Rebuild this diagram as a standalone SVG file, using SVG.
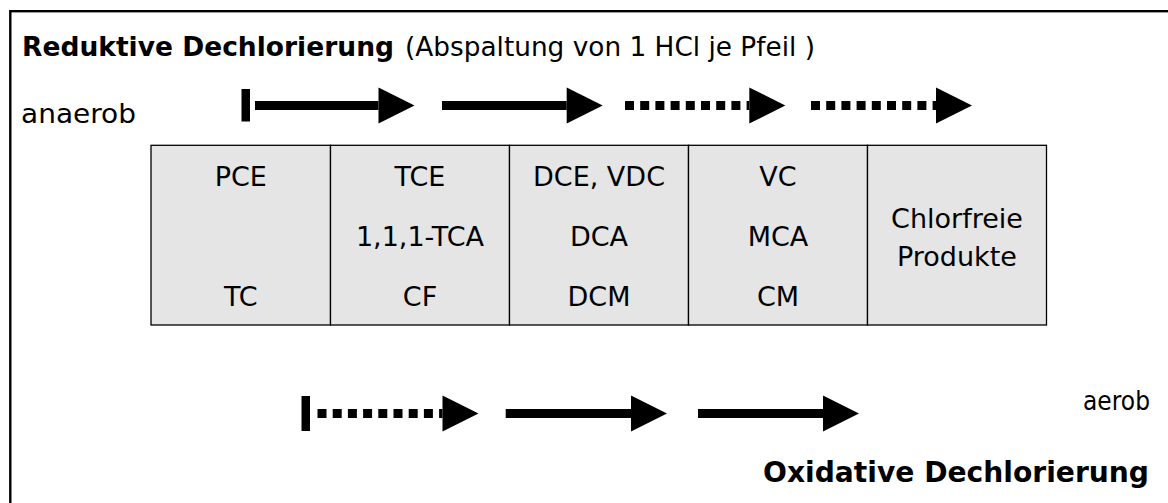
<svg xmlns="http://www.w3.org/2000/svg" width="1168" height="503" viewBox="0 0 1168 503">
  <style>
    text { font-family: "DejaVu Sans", "Liberation Sans", sans-serif; fill: #000; }
    .cell { fill: #e5e5e5; stroke: #000; stroke-width: 1.3; }
    .lbl { font-size: 27px; text-anchor: middle; }
    .head { font-size: 26px; font-weight: bold; }
    .note { font-size: 26px; }
    .side { font-size: 27px; }
    .solid { stroke: #000; stroke-width: 9; fill: none; }
    .dotted { stroke: #000; stroke-width: 9; fill: none; stroke-dasharray: 9 6.2; }
    .bar { fill: #000; }
  </style>
  <defs>
    <marker id="tri" markerUnits="userSpaceOnUse" markerWidth="37" markerHeight="37" refX="0" refY="18" orient="auto" overflow="visible">
      <path d="M0,0 L36,18 L0,36 Z" fill="#000"/>
    </marker>
  </defs>

  <!-- outer frame (only left and top edges fall inside the canvas) -->
  <rect x="10.3" y="11.2" width="1200" height="600" fill="none" stroke="#000" stroke-width="2.4"/>

  <!-- headings and condition labels -->
  <g id="title-reductive">
    <text x="22" y="56" class="head" textLength="372" lengthAdjust="spacingAndGlyphs">Reduktive Dechlorierung</text>
    <text x="405" y="56" class="note" textLength="410" lengthAdjust="spacingAndGlyphs">(Abspaltung von 1 HCl je Pfeil )</text>
  </g>
  <g id="label-anaerob">
    <text x="21" y="123" class="side" textLength="115" lengthAdjust="spacingAndGlyphs">anaerob</text>
  </g>
  <g id="label-aerob">
    <text x="1083" y="410" class="side" style="font-size:26px" textLength="67" lengthAdjust="spacingAndGlyphs">aerob</text>
  </g>
  <g id="title-oxidative">
    <text x="763" y="482" class="head" style="font-size:28px" textLength="386" lengthAdjust="spacingAndGlyphs">Oxidative Dechlorierung</text>
  </g>

  <!-- compound classes, one column per chlorination level -->
  <g id="col-pce">
    <rect class="cell" x="151" y="145.3" width="179.5" height="179.7"/>
    <text class="lbl" x="240.8" y="186">PCE</text>
    <text class="lbl" x="240.8" y="306">TC</text>
  </g>
  <g id="col-tce">
    <rect class="cell" x="330.5" y="145.3" width="179" height="179.7"/>
    <text class="lbl" x="420" y="186">TCE</text>
    <text class="lbl" x="420" y="246">1,1,1-TCA</text>
    <text class="lbl" x="420" y="306">CF</text>
  </g>
  <g id="col-dce">
    <rect class="cell" x="509.5" y="145.3" width="179" height="179.7"/>
    <text class="lbl" x="599" y="186">DCE, VDC</text>
    <text class="lbl" x="599" y="246">DCA</text>
    <text class="lbl" x="599" y="306">DCM</text>
  </g>
  <g id="col-vc">
    <rect class="cell" x="688.5" y="145.3" width="179" height="179.7"/>
    <text class="lbl" x="778" y="186">VC</text>
    <text class="lbl" x="778" y="246">MCA</text>
    <text class="lbl" x="778" y="306">CM</text>
  </g>
  <g id="col-free">
    <rect class="cell" x="867.5" y="145.3" width="179" height="179.7"/>
    <text class="lbl" x="957" y="228">Chlorfreie</text>
    <text class="lbl" x="957" y="266">Produkte</text>
  </g>

  <!-- reaction arrows -->
  <g id="connectors">
    <!-- anaerobic (reductive) sequence -->
    <rect class="bar" x="241.5" y="89" width="8.5" height="32.5"/>
    <line class="solid" x1="255" y1="105.5" x2="378.5" y2="105.5" marker-end="url(#tri)"/>
    <line class="solid" x1="442" y1="105.5" x2="566.7" y2="105.5" marker-end="url(#tri)"/>
    <line class="dotted" x1="625" y1="105.5" x2="749.3" y2="105.5" marker-end="url(#tri)"/>
    <line class="dotted" x1="811" y1="105.5" x2="936" y2="105.5" marker-end="url(#tri)"/>
    <!-- aerobic (oxidative) sequence -->
    <rect class="bar" x="301.5" y="396" width="8.5" height="35"/>
    <line class="dotted" x1="317.5" y1="413.5" x2="442.5" y2="413.5" marker-end="url(#tri)"/>
    <line class="solid" x1="505.7" y1="413.5" x2="631" y2="413.5" marker-end="url(#tri)"/>
    <line class="solid" x1="698" y1="413.5" x2="823" y2="413.5" marker-end="url(#tri)"/>
  </g>
</svg>
